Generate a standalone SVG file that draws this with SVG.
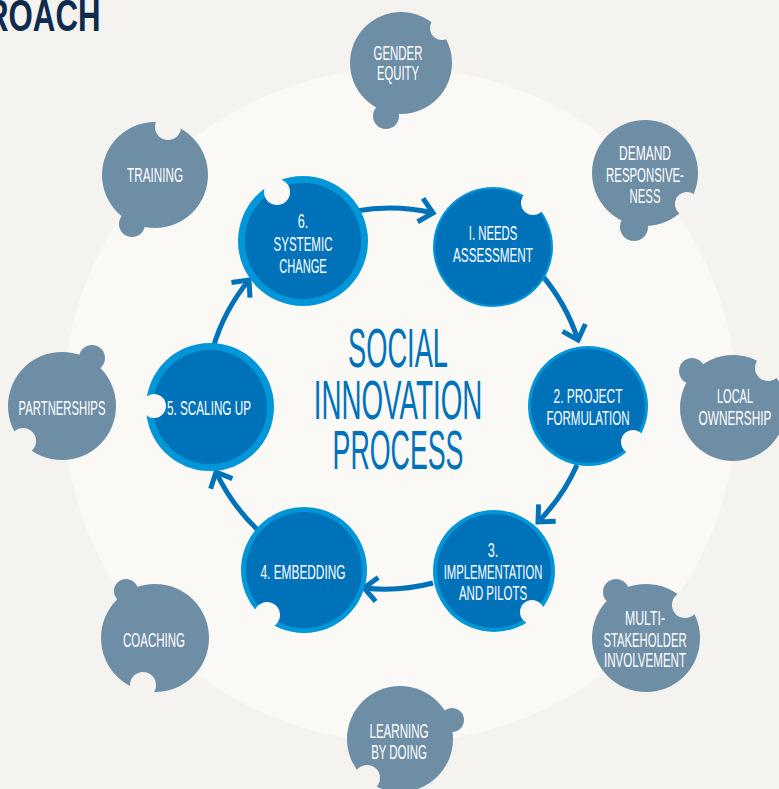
<svg xmlns="http://www.w3.org/2000/svg" width="779" height="789" viewBox="0 0 779 789">
<style>
.bg{fill:#f4f3ef}
.inner{fill:#faf9f6}
.grey{fill:#6e8ea6}
.ring{fill:#0096d8}
.core{fill:#0072b9}
.lbl{font-family:"Liberation Sans",Arial,sans-serif;font-size:21px;fill:#ffffff;text-anchor:middle}
.title{font-family:"Liberation Sans",Arial,sans-serif;font-size:56px;fill:#0072b9;text-anchor:middle}
.head{font-family:"Liberation Sans",Arial,sans-serif;font-size:44px;font-weight:bold;fill:#0e2a4c}
.conn{fill:none;stroke:#0072b9;stroke-width:5}
</style>
<defs>
<marker id="chev" markerUnits="userSpaceOnUse" viewBox="-20 -16 26 32" markerWidth="26" markerHeight="32" refX="0" refY="0" orient="auto" overflow="visible">
<path d="M-13,-12 L0,0 L-13,12" fill="none" stroke="#0072b9" stroke-width="5"/>
</marker>
<mask id="m-gender" maskUnits="userSpaceOnUse" x="0" y="0" width="779" height="789"><rect width="779" height="789" fill="#fff"/><circle cx="442" cy="28" r="12" fill="#000"/></mask>
<mask id="m-training" maskUnits="userSpaceOnUse" x="0" y="0" width="779" height="789"><rect width="779" height="789" fill="#fff"/><circle cx="168" cy="127" r="13" fill="#000"/></mask>
<mask id="m-demand" maskUnits="userSpaceOnUse" x="0" y="0" width="779" height="789"><rect width="779" height="789" fill="#fff"/><circle cx="687" cy="204" r="12" fill="#000"/></mask>
<mask id="m-local" maskUnits="userSpaceOnUse" x="0" y="0" width="779" height="789"><rect width="779" height="789" fill="#fff"/><circle cx="768" cy="368" r="13" fill="#000"/></mask>
<mask id="m-multi" maskUnits="userSpaceOnUse" x="0" y="0" width="779" height="789"><rect width="779" height="789" fill="#fff"/><circle cx="685" cy="605" r="13" fill="#000"/></mask>
<mask id="m-learning" maskUnits="userSpaceOnUse" x="0" y="0" width="779" height="789"><rect width="779" height="789" fill="#fff"/><circle cx="367" cy="778" r="13" fill="#000"/></mask>
<mask id="m-coaching" maskUnits="userSpaceOnUse" x="0" y="0" width="779" height="789"><rect width="779" height="789" fill="#fff"/><circle cx="143" cy="685" r="13" fill="#000"/></mask>
<mask id="m-partner" maskUnits="userSpaceOnUse" x="0" y="0" width="779" height="789"><rect width="779" height="789" fill="#fff"/><circle cx="23" cy="441" r="13" fill="#000"/></mask>
<mask id="m-n6" maskUnits="userSpaceOnUse" x="0" y="0" width="779" height="789"><rect width="779" height="789" fill="#fff"/><circle cx="277" cy="192" r="13" fill="#000"/></mask>
<mask id="m-n1" maskUnits="userSpaceOnUse" x="0" y="0" width="779" height="789"><rect width="779" height="789" fill="#fff"/><circle cx="533" cy="203" r="12" fill="#000"/></mask>
<mask id="m-n2" maskUnits="userSpaceOnUse" x="0" y="0" width="779" height="789"><rect width="779" height="789" fill="#fff"/><circle cx="633" cy="442" r="12" fill="#000"/></mask>
<mask id="m-n3" maskUnits="userSpaceOnUse" x="0" y="0" width="779" height="789"><rect width="779" height="789" fill="#fff"/><circle cx="532" cy="612" r="12" fill="#000"/></mask>
<mask id="m-n4" maskUnits="userSpaceOnUse" x="0" y="0" width="779" height="789"><rect width="779" height="789" fill="#fff"/><circle cx="267" cy="615" r="13" fill="#000"/></mask>
<mask id="m-n5" maskUnits="userSpaceOnUse" x="0" y="0" width="779" height="789"><rect width="779" height="789" fill="#fff"/><circle cx="154" cy="406" r="12" fill="#000"/></mask>
</defs>

<rect class="bg" x="0" y="0" width="779" height="789"/>
<circle class="inner" cx="400" cy="405" r="337"/>

<text class="head" transform="translate(-14,31) scale(0.71,1)">ROACH</text>

<g id="connectors">
<path class="conn" marker-end="url(#chev)" d="M356,211 A192,192 0 0 1 433,213"/>
<path class="conn" marker-end="url(#chev)" d="M540,273 A192,192 0 0 1 578,340"/>
<path class="conn" marker-end="url(#chev)" d="M577,465 A192,192 0 0 1 538,522"/>
<path class="conn" marker-end="url(#chev)" d="M433,583 A192,192 0 0 1 364,588"/>
<path class="conn" marker-end="url(#chev)" d="M260,532 A192,192 0 0 1 216,472"/>
<path class="conn" marker-end="url(#chev)" d="M213,348 A192,192 0 0 1 249,280"/>
</g>

<g id="center-title">
<text class="title" transform="translate(398,367) scale(0.487,1)">SOCIAL</text>
<text class="title" transform="translate(398,419) scale(0.496,1)">INNOVATION</text>
<text class="title" transform="translate(398,469) scale(0.478,1)">PROCESS</text>
</g>

<g id="node-6">
<g mask="url(#m-n6)"><circle class="ring" cx="303" cy="241" r="65"/><circle class="core" cx="303" cy="241" r="58"/></g>
<text class="lbl" transform="translate(303,228) scale(0.6,1)">6.</text>
<text class="lbl" transform="translate(303,251) scale(0.55,1)">SYSTEMIC</text>
<text class="lbl" transform="translate(303,273) scale(0.53,1)">CHANGE</text>
</g>

<g id="node-1">
<g mask="url(#m-n1)"><circle class="ring" cx="493" cy="247" r="60"/><circle class="core" cx="493" cy="247" r="58"/></g>
<text class="lbl" transform="translate(493,240) scale(0.54,1)">I. NEEDS</text>
<text class="lbl" transform="translate(493,262) scale(0.557,1)">ASSESSMENT</text>
</g>

<g id="node-2">
<g mask="url(#m-n2)"><circle class="ring" cx="588" cy="406" r="60"/><circle class="core" cx="588" cy="406" r="57"/></g>
<text class="lbl" transform="translate(588,403) scale(0.568,1)">2. PROJECT</text>
<text class="lbl" transform="translate(588,425) scale(0.55,1)">FORMULATION</text>
</g>

<g id="node-3">
<g mask="url(#m-n3)"><circle class="ring" cx="494" cy="571" r="61"/><circle class="core" cx="494" cy="571" r="57"/></g>
<text class="lbl" transform="translate(493,557) scale(0.6,1)">3.</text>
<text class="lbl" transform="translate(493,579) scale(0.538,1)">IMPLEMENTATION</text>
<text class="lbl" transform="translate(493,600) scale(0.545,1)">AND PILOTS</text>
</g>

<g id="node-4">
<g mask="url(#m-n4)"><circle class="ring" cx="304" cy="570" r="63"/><circle class="core" cx="304" cy="570" r="58"/></g>
<text class="lbl" transform="translate(303,579) scale(0.565,1)">4. EMBEDDING</text>
</g>

<g id="node-5">
<g mask="url(#m-n5)"><circle class="ring" cx="210" cy="407" r="64"/><circle class="core" cx="210" cy="407" r="57"/></g>
<text class="lbl" transform="translate(209,415) scale(0.558,1)">5. SCALING UP</text>
</g>

<g id="gender-equity">
<g mask="url(#m-gender)" class="grey"><circle cx="401" cy="63" r="51"/><circle cx="386" cy="116" r="13"/></g>
<text class="lbl" transform="translate(398,60) scale(0.545,1)">GENDER</text>
<text class="lbl" transform="translate(398,80) scale(0.537,1)">EQUITY</text>
</g>

<g id="training">
<g mask="url(#m-training)" class="grey"><circle cx="155" cy="175" r="53"/><circle cx="132" cy="224" r="13"/></g>
<text class="lbl" transform="translate(155,182) scale(0.558,1)">TRAINING</text>
</g>

<g id="demand-responsiveness">
<g mask="url(#m-demand)" class="grey"><circle cx="645" cy="173" r="53"/><circle cx="634" cy="227" r="14"/></g>
<text class="lbl" transform="translate(645,160) scale(0.57,1)">DEMAND</text>
<text class="lbl" transform="translate(645,182) scale(0.543,1)">RESPONSIVE-</text>
<text class="lbl" transform="translate(645,203) scale(0.542,1)">NESS</text>
</g>

<g id="local-ownership">
<g mask="url(#m-local)" class="grey"><circle cx="733" cy="408" r="53"/><circle cx="692" cy="371" r="13"/></g>
<text class="lbl" transform="translate(735,403) scale(0.523,1)">LOCAL</text>
<text class="lbl" transform="translate(735,425) scale(0.563,1)">OWNERSHIP</text>
</g>

<g id="multi-stakeholder">
<g mask="url(#m-multi)" class="grey"><circle cx="646" cy="638" r="54"/><circle cx="616" cy="592" r="13"/></g>
<text class="lbl" transform="translate(645,625) scale(0.585,1)">MULTI-</text>
<text class="lbl" transform="translate(645,647) scale(0.537,1)">STAKEHOLDER</text>
<text class="lbl" transform="translate(645,667) scale(0.551,1)">INVOLVEMENT</text>
</g>

<g id="learning-by-doing">
<g mask="url(#m-learning)" class="grey"><circle cx="400" cy="739" r="53"/><circle cx="452" cy="720" r="12"/></g>
<text class="lbl" transform="translate(399,738) scale(0.55,1)">LEARNING</text>
<text class="lbl" transform="translate(399,759) scale(0.545,1)">BY DOING</text>
</g>

<g id="coaching">
<g mask="url(#m-coaching)" class="grey"><circle cx="155" cy="638" r="54"/><circle cx="126" cy="591" r="12"/></g>
<text class="lbl" transform="translate(154,647) scale(0.548,1)">COACHING</text>
</g>

<g id="partnerships">
<g mask="url(#m-partner)" class="grey"><circle cx="62" cy="406" r="54"/><circle cx="92" cy="358" r="13"/></g>
<text class="lbl" transform="translate(62,415) scale(0.538,1)">PARTNERSHIPS</text>
</g>
</svg>
